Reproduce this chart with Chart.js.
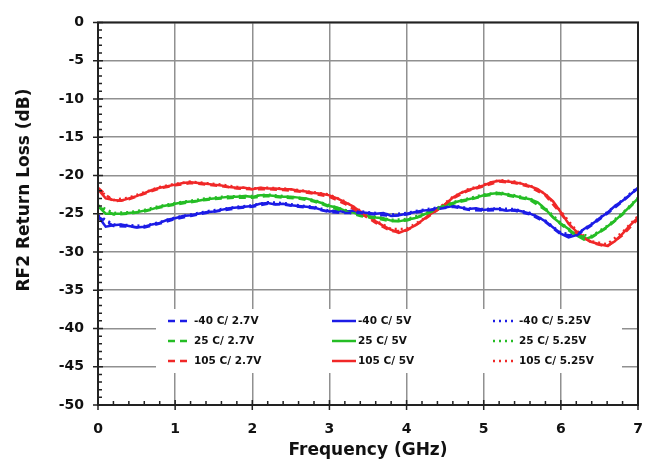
<!DOCTYPE html>
<html>
<head>
<meta charset="utf-8">
<script src="https://cdn.jsdelivr.net/npm/chart.js@4.4.0/dist/chart.umd.min.js"></script>
<style>
html, body { margin: 0; padding: 0; background: #fff; }
</style>
</head>
<body>
<canvas id="graphCanvas" width="651" height="470"></canvas>
<script>
// Frekans noktaları (GHz)
const freqFine = [0.0, 0.1, 0.2, 0.3, 0.4, 0.5, 0.6, 0.7, 0.8, 0.9,
    1.0, 1.1, 1.2, 1.3, 1.4, 1.5, 1.6, 1.7, 1.8, 1.9,
    2.0, 2.1, 2.2, 2.3, 2.4, 2.5, 2.6, 2.7, 2.8, 2.9,
    3.0, 3.1, 3.2, 3.3, 3.4, 3.5, 3.6, 3.7, 3.8, 3.9,
    4.0, 4.1, 4.2, 4.3, 4.4, 4.5, 4.6, 4.7, 4.8, 4.9,
    5.0, 5.1, 5.2, 5.3, 5.4, 5.5, 5.6, 5.7, 5.8, 5.9,
    6.0, 6.1, 6.2, 6.3, 6.4, 6.5, 6.6, 6.7, 6.8, 6.9, 7.0];
const freqCoarse = [0.0, 0.2, 0.4, 0.6, 0.8, 1.0, 1.2, 1.4, 1.6, 1.8,
    2.0, 2.2, 2.4, 2.6, 2.8, 3.0, 3.2, 3.4, 3.6, 3.8,
    4.0, 4.2, 4.4, 4.6, 4.8, 5.0, 5.2, 5.4, 5.6, 5.8,
    6.0, 6.2, 6.4, 6.6, 6.8, 7.0];

// 5V eğrileri (0.1 GHz adım)
const m40_5V = [-25.3, -26.7, -26.5, -26.4, -26.6, -26.8, -26.7, -26.4, -26.2, -25.8,
    -25.6, -25.3, -25.2, -25.0, -24.8, -24.7, -24.5, -24.3, -24.2, -24.1,
    -24.0, -23.7, -23.6, -23.8, -23.7, -23.9, -24.0, -24.1, -24.2, -24.5,
    -24.7, -24.6, -24.8, -24.6, -24.8, -24.9, -25.0, -24.9, -25.3, -25.2,
    -25.0, -24.8, -24.6, -24.5, -24.3, -24.2, -24.0, -24.2, -24.4, -24.3,
    -24.5, -24.4, -24.4, -24.6, -24.5, -24.7, -25.0, -25.4, -26.0, -26.8,
    -27.6, -28.1, -27.8, -27.0, -26.4, -25.6, -24.9, -24.0, -23.3, -22.5, -21.6];
const p25_5V = [-24.0, -25.0, -25.0, -25.0, -24.9, -24.8, -24.6, -24.4, -24.1, -23.9,
    -23.7, -23.5, -23.4, -23.3, -23.1, -23.0, -22.9, -22.8, -22.8, -22.7,
    -22.8, -22.6, -22.6, -22.7, -22.8, -22.8, -22.9, -23.0, -23.3, -23.6,
    -24.0, -24.2, -24.6, -24.8, -25.2, -25.3, -25.5, -25.6, -25.9, -26.0,
    -25.8, -25.6, -25.2, -24.8, -24.3, -23.9, -23.6, -23.3, -23.1, -22.9,
    -22.6, -22.4, -22.3, -22.5, -22.7, -22.9, -23.1, -23.5, -24.4, -25.5,
    -26.3, -27.0, -27.8, -28.4, -28.0, -27.4, -26.7, -25.9, -25.0, -24.0, -23.0];
const p105_5V = [-21.8, -23.0, -23.2, -23.3, -23.0, -22.7, -22.3, -21.9, -21.6, -21.4,
    -21.2, -21.0, -20.9, -21.0, -21.1, -21.2, -21.3, -21.5, -21.6, -21.6,
    -21.8, -21.6, -21.7, -21.7, -21.8, -21.8, -22.0, -22.1, -22.3, -22.4,
    -22.6, -23.0, -23.5, -24.0, -24.7, -25.3, -26.0, -26.6, -27.1, -27.5,
    -27.1, -26.6, -25.9, -25.1, -24.5, -23.8, -22.9, -22.3, -21.9, -21.6,
    -21.3, -20.9, -20.7, -20.8, -20.9, -21.1, -21.4, -21.8, -22.5, -23.4,
    -24.8, -26.3, -27.3, -28.1, -28.7, -29.0, -29.2, -28.6, -27.6, -26.5, -25.5];

// 2.7V ve 5.25V eğrileri (0.2 GHz adım)
const m40_27V = [-25.4, -26.6, -26.7, -26.8, -26.3, -25.7, -25.3, -24.9, -24.6, -24.3,
    -24.1, -23.7, -23.8, -24.1, -24.3, -24.8, -24.9, -24.9, -25.1, -25.3,
    -25.1, -24.7, -24.4, -24.1, -24.5, -24.6, -24.5, -24.6, -25.1, -26.1,
    -27.7, -27.9, -26.5, -25.0, -23.4, -21.7];
const m40_525V = [-25.2, -26.4, -26.5, -26.6, -26.1, -25.5, -25.1, -24.7, -24.4, -24.1,
    -23.9, -23.5, -23.6, -23.9, -24.1, -24.6, -24.7, -24.7, -24.9, -25.1,
    -24.9, -24.5, -24.2, -23.9, -24.3, -24.4, -24.3, -24.4, -24.9, -25.9,
    -27.5, -27.7, -26.3, -24.8, -23.2, -21.5];
const p25_27V = [-24.1, -25.1, -25.0, -24.7, -24.2, -23.8, -23.5, -23.2, -23.0, -22.9,
    -22.9, -22.7, -22.9, -23.0, -23.4, -24.1, -24.7, -25.3, -25.6, -26.0,
    -25.9, -25.3, -24.4, -23.7, -23.2, -22.7, -22.4, -22.8, -23.2, -24.5,
    -26.4, -27.9, -28.1, -26.8, -25.1, -23.1];
const p25_525V = [-23.9, -24.9, -24.8, -24.5, -24.0, -23.6, -23.3, -23.0, -22.8, -22.7,
    -22.7, -22.5, -22.7, -22.9, -23.2, -23.9, -24.5, -25.1, -25.4, -25.8,
    -25.7, -25.1, -24.2, -23.5, -23.0, -22.5, -22.2, -22.6, -23.0, -24.3,
    -26.2, -27.7, -27.9, -26.6, -24.9, -22.9];
const p105_27V = [-21.6, -23.4, -23.1, -22.4, -21.7, -21.3, -21.0, -21.2, -21.4, -21.7,
    -21.8, -21.8, -21.9, -22.1, -22.4, -22.8, -23.7, -24.9, -26.2, -27.3,
    -27.2, -26.0, -24.5, -23.0, -22.0, -21.4, -20.8, -21.0, -21.5, -22.6,
    -25.0, -27.5, -28.8, -29.3, -27.8, -25.7];
const p105_525V = [-21.9, -23.2, -22.9, -22.2, -21.5, -21.1, -20.8, -21.0, -21.2, -21.5,
    -21.7, -21.6, -21.7, -21.9, -22.2, -22.5, -23.4, -24.6, -25.9, -27.0,
    -27.0, -25.8, -24.4, -22.8, -21.8, -21.2, -20.6, -20.8, -21.3, -22.4,
    -24.7, -27.2, -28.6, -29.0, -27.4, -25.3];

const xTicks = [0, 1, 2, 3, 4, 5, 6, 7];
const yTicks = [0, -5, -10, -15, -20, -25, -30, -35, -40, -45, -50];

const BLUE = '#1c1ce6';
const GREEN = '#25bd25';
const RED = '#f02828';
const FONT = '"DejaVu Sans", Verdana, sans-serif';

function pts(xs, ys) {
    return ys.map((v, i) => ({ x: xs[i], y: v }));
}

function series(label, xs, ys, color, dash) {
    return {
        label: label,
        data: pts(xs, ys),
        borderColor: color,
        backgroundColor: color,
        borderWidth: 2.5,
        borderDash: dash,
        pointRadius: 0,
        fill: false,
        tension: 0
    };
}

const DASH = [7, 5];
const DOT = [2, 4];

const datasets = [
    series('-40 C/ 2.7V', freqCoarse, m40_27V, BLUE, DASH),
    series('25 C/ 2.7V', freqCoarse, p25_27V, GREEN, DASH),
    series('105 C/ 2.7V', freqCoarse, p105_27V, RED, DASH),
    series('-40 C/ 5V', freqFine, m40_5V, BLUE, []),
    series('25 C/ 5V', freqFine, p25_5V, GREEN, []),
    series('105 C/ 5V', freqFine, p105_5V, RED, []),
    series('-40 C/ 5.25V', freqCoarse, m40_525V, BLUE, DOT),
    series('25 C/ 5.25V', freqCoarse, p25_525V, GREEN, DOT),
    series('105 C/ 5.25V', freqCoarse, p105_525V, RED, DOT)
];

// Kenarlık, küçük çentikler, gösterge kutusu ve y ekseni başlığı
const decor = {
    id: 'decor',
    afterDatasetsDraw(chart) {
        const ctx = chart.ctx;
        // Gösterge (3x3)
        const colX = [168, 332, 493];
        const rowY = [321, 341, 361];
        ctx.save();
        ctx.fillStyle = '#fff';
        ctx.fillRect(156, 309, 466, 64);
        ctx.font = 'bold 10.5px ' + FONT;
        ctx.textBaseline = 'middle';
        chart.data.datasets.forEach((ds, i) => {
            const c = Math.floor(i / 3), r = i % 3;
            const x0 = colX[c], y0 = rowY[r];
            ctx.strokeStyle = ds.borderColor;
            ctx.lineWidth = 2.5;
            ctx.setLineDash(ds.borderDash);
            ctx.beginPath();
            ctx.moveTo(x0, y0);
            ctx.lineTo(x0 + 24, y0);
            ctx.stroke();
            ctx.setLineDash([]);
            ctx.fillStyle = '#111';
            ctx.fillText(ds.label, x0 + 26, y0 + 0.5);
        });
        ctx.restore();
    },
    afterDraw(chart) {
        const ctx = chart.ctx;
        const a = chart.chartArea;
        const xs = chart.scales.x, ys = chart.scales.y;
        ctx.save();
        ctx.strokeStyle = '#222';
        ctx.lineWidth = 2;
        ctx.strokeRect(a.left, a.top, a.right - a.left, a.bottom - a.top);
        ctx.lineWidth = 1.5;
        ctx.beginPath();
        for (let k = 0; k <= 35; k++) {
            const px = xs.getPixelForValue(k / 5);
            const major = k % 5 === 0;
            ctx.moveTo(px, a.bottom + (major ? 5 : 0));
            ctx.lineTo(px, a.bottom - (major ? 5 : 4));
        }
        for (let k = 0; k <= 50; k++) {
            const py = ys.getPixelForValue(-k);
            const major = k % 5 === 0;
            ctx.moveTo(a.left - (major ? 5 : 0), py);
            ctx.lineTo(a.left + (major ? 5 : 4), py);
        }
        ctx.stroke();
        // y ekseni başlığı
        ctx.fillStyle = '#111';
        ctx.font = 'bold 17px ' + FONT;
        ctx.textAlign = 'center';
        ctx.textBaseline = 'middle';
        ctx.translate(25, 190);
        ctx.rotate(-Math.PI / 2);
        ctx.fillText('RF2 Return Loss (dB)', 0, 0);
        ctx.restore();
    }
};

const ctx = document.getElementById('graphCanvas').getContext('2d');
window.myChart = new Chart(ctx, {
    type: 'line',
    data: { datasets: datasets },
    options: {
        responsive: false,
        animation: false,
        devicePixelRatio: 1,
        layout: { padding: { left: 0, top: 12, right: 13, bottom: 0 } },
        plugins: {
            legend: { display: false },
            tooltip: { enabled: false }
        },
        scales: {
            x: {
                type: 'linear',
                min: 0,
                max: 7,
                afterBuildTicks: (s) => { s.ticks = xTicks.map(v => ({ value: v })); },
                afterFit: (s) => { s.height = 65; s.paddingLeft = 0; s.paddingRight = 0; },
                grid: { color: '#909090', lineWidth: 1.5, drawTicks: false },
                border: { display: false },
                ticks: {
                    padding: 16,
                    color: '#111',
                    font: { family: FONT, size: 14, weight: 'bold' }
                },
                title: {
                    display: true,
                    text: 'Frequency (GHz)',
                    color: '#111',
                    font: { family: FONT, size: 17, weight: 'bold' },
                    padding: { top: 4, bottom: 9 }
                }
            },
            y: {
                type: 'linear',
                min: -50,
                max: 0,
                afterBuildTicks: (s) => { s.ticks = yTicks.map(v => ({ value: v })); },
                afterFit: (s) => { s.width = 98; },
                grid: { color: '#909090', lineWidth: 1.5, drawTicks: false },
                border: { display: false },
                ticks: {
                    padding: 14,
                    color: '#111',
                    font: { family: FONT, size: 14, weight: 'bold' }
                }
            }
        }
    },
    plugins: [decor]
});
</script>
</body>
</html>
